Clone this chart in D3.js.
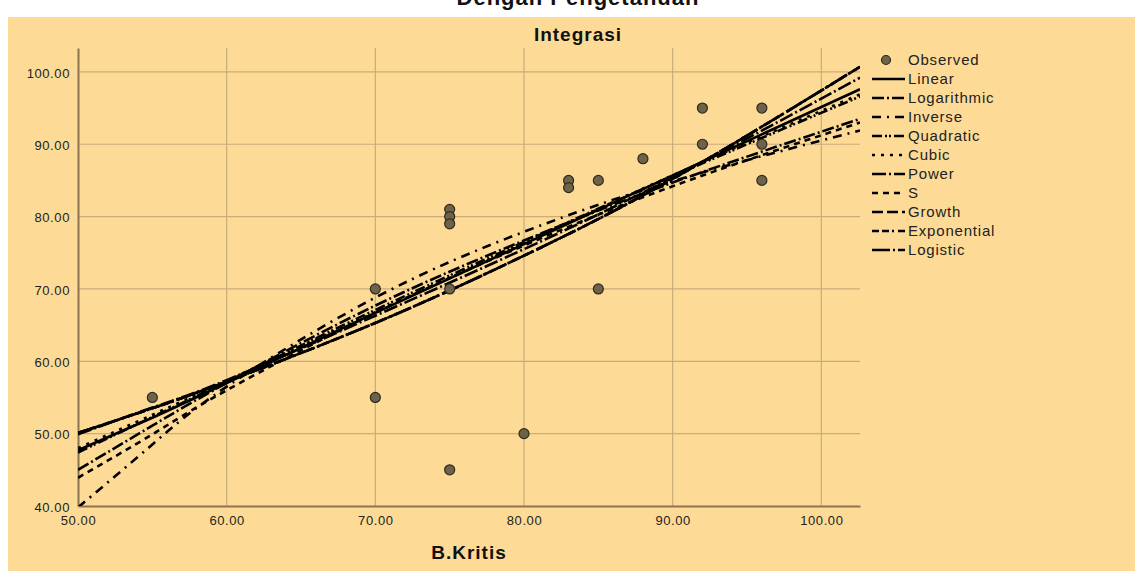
<!DOCTYPE html>
<html>
<head>
<meta charset="utf-8">
<script src="https://cdn.jsdelivr.net/npm/d3@7"></script>
<style>
  body { margin: 0; background: #fff; }
  svg { display: block; font-family: "Liberation Sans", Arial, sans-serif; }
</style>
</head>
<body>
<div id="chart"></div>
<script>
// Observed points (B.Kritis, Integrasi)
const obsX = [55, 70, 70, 75, 75, 75, 75, 75, 80, 83, 83, 85, 85, 88, 92, 92, 96, 96, 96];
const obsY = [55, 70, 55, 81, 80, 79, 70, 45, 50, 85, 84, 85, 70, 88, 95, 90, 95, 90, 85];

// fitted curves at these x positions
const fitX = [50, 55, 60, 70, 80, 90, 102.6];
const linear      = [47.7, 52.2, 57.0, 66.7, 76.2, 85.7, 97.6];
const logarithmic = [45.0, 51.1, 57.0, 67.7, 76.7, 84.7, 93.5];
const inverse     = [39.8, 48.5, 56.5, 68.8, 77.9, 84.9, 91.9];
const quadratic   = [47.4, 52.3, 57.2, 67.1, 76.5, 85.6, 96.6];
const cubic       = [48.0, 52.6, 57.3, 66.8, 76.3, 85.7, 96.9];
const power       = [49.9, 53.6, 57.4, 66.3, 75.5, 85.4, 99.2];
const sCurve      = [43.9, 49.9, 56.0, 66.7, 76.0, 84.2, 93.0];
const growth      = [50.1, 53.5, 57.2, 65.3, 74.6, 85.2, 100.7];
const exponential = [50.1, 53.5, 57.2, 65.3, 74.6, 85.2, 100.7];
const logistic    = [50.1, 53.5, 57.2, 65.3, 74.6, 85.2, 100.7];

const fitNames = ["Linear", "Logarithmic", "Inverse", "Quadratic", "Cubic", "Power", "S", "Growth", "Exponential", "Logistic"];
const fitValues = [linear, logarithmic, inverse, quadratic, cubic, power, sCurve, growth, exponential, logistic];
const fitDash = [null, "12,3,2,3", "9,6,2,6", "10,3,2,2,2,3", "3,6", "14,3,2,3", "6,5", "11,4", "7,3,7,3,2,4", "18,3,2,3"];

const xTicks = [50, 60, 70, 80, 90, 100];
const yTicks = [40, 50, 60, 70, 80, 90, 100];

const width = 1135, height = 575;
const bg = "#fddb96";

const svg = d3.select("#chart").append("svg")
  .attr("width", width)
  .attr("height", height);

// panel
svg.append("rect")
  .attr("x", 8).attr("y", 17)
  .attr("width", width - 8).attr("height", 554)
  .attr("fill", bg);

// heading above the panel, cut at the top like the original
svg.append("text")
  .attr("x", 578).attr("y", 5)
  .attr("text-anchor", "middle")
  .style("font-size", "22px").style("font-weight", "bold")
  .style("letter-spacing", "1px")
  .attr("fill", "#111")
  .text("Dengan Pengetahuan");

const x = d3.scaleLinear().domain([50, 102.6]).range([78, 860]);
const y = d3.scaleLinear().domain([40, 103.3]).range([506, 48]);

// gridlines
svg.append("g").selectAll("line")
  .data(yTicks.slice(1))
  .join("line")
  .attr("x1", x(50)).attr("x2", x(102.6))
  .attr("y1", (d) => y(d)).attr("y2", (d) => y(d))
  .attr("stroke", "#c9ad78").attr("stroke-width", 1.2);

svg.append("g").selectAll("line")
  .data(xTicks.slice(1))
  .join("line")
  .attr("x1", (d) => x(d)).attr("x2", (d) => x(d))
  .attr("y1", y(40)).attr("y2", y(103.3))
  .attr("stroke", "#c9ad78").attr("stroke-width", 1.2);

// axes
const xAxis = d3.axisBottom(x).tickValues(xTicks).tickFormat(d3.format(".2f")).tickSize(0).tickPadding(10);
const yAxis = d3.axisLeft(y).tickValues(yTicks).tickFormat(d3.format(".2f")).tickSize(0).tickPadding(8);

const gx = svg.append("g").attr("transform", `translate(0,${y(40)})`).call(xAxis);
const gy = svg.append("g").attr("transform", `translate(${x(50)},0)`).call(yAxis);
[gx, gy].forEach((g) => {
  g.select(".domain").attr("stroke", "#8c7450").attr("stroke-width", 2);
  g.selectAll("text")
    .attr("fill", "#222")
    .style("font-size", "13px")
    .style("letter-spacing", "0.6px")
    .style("font-family", "Liberation Sans, Arial, sans-serif");
});
gy.selectAll(".tick text").attr("dy", "0.4em");

// titles
svg.append("text")
  .attr("x", 578).attr("y", 41)
  .attr("text-anchor", "middle")
  .style("font-size", "19px").style("font-weight", "bold")
  .style("letter-spacing", "1px")
  .attr("fill", "#111")
  .text("Integrasi");

svg.append("text")
  .attr("x", 469).attr("y", 559)
  .attr("text-anchor", "middle")
  .style("font-size", "19px").style("font-weight", "bold")
  .style("letter-spacing", "1px")
  .attr("fill", "#111")
  .text("B.Kritis");

// clip for the fitted curves
svg.append("clipPath").attr("id", "plotclip")
  .append("rect")
  .attr("x", x(50)).attr("y", y(103.3))
  .attr("width", x(102.6) - x(50)).attr("height", y(40) - y(103.3));

const line = d3.line()
  .x((d, i) => x(fitX[i]))
  .y((d) => y(d))
  .curve(d3.curveNatural);

svg.append("g").attr("clip-path", "url(#plotclip)")
  .selectAll("path")
  .data(fitValues)
  .join("path")
  .attr("d", (d) => line(d))
  .attr("fill", "none")
  .attr("stroke", "#000")
  .attr("stroke-width", 2.6)
  .attr("stroke-dasharray", (d, i) => fitDash[i]);

// observed points
svg.append("g").selectAll("circle")
  .data(obsX)
  .join("circle")
  .attr("cx", (d) => x(d))
  .attr("cy", (d, i) => y(obsY[i]))
  .attr("r", 5)
  .attr("fill", "#6e6248")
  .attr("stroke", "#2e2a22")
  .attr("stroke-width", 1.2);

// legend
const legend = svg.append("g").attr("transform", "translate(872,60)");
const rowH = 19;

legend.append("circle")
  .attr("cx", 14).attr("cy", 0).attr("r", 4.5)
  .attr("fill", "#6e6248").attr("stroke", "#2e2a22").attr("stroke-width", 1.2);
legend.append("text")
  .attr("x", 36).attr("y", 0).attr("dy", "0.36em")
  .style("font-size", "15px").style("letter-spacing", "0.8px")
  .attr("fill", "#222")
  .text("Observed");

const rows = legend.selectAll(".lg")
  .data(fitNames)
  .join("g")
  .attr("class", "lg")
  .attr("transform", (d, i) => `translate(0,${(i + 1) * rowH})`);

rows.append("line")
  .attr("x1", 0).attr("x2", 33)
  .attr("stroke", "#000").attr("stroke-width", 2.6)
  .attr("stroke-dasharray", (d, i) => fitDash[i]);

rows.append("text")
  .attr("x", 36).attr("dy", "0.36em")
  .style("font-size", "15px").style("letter-spacing", "0.8px")
  .attr("fill", "#222")
  .text((d) => d);
</script>
</body>
</html>
